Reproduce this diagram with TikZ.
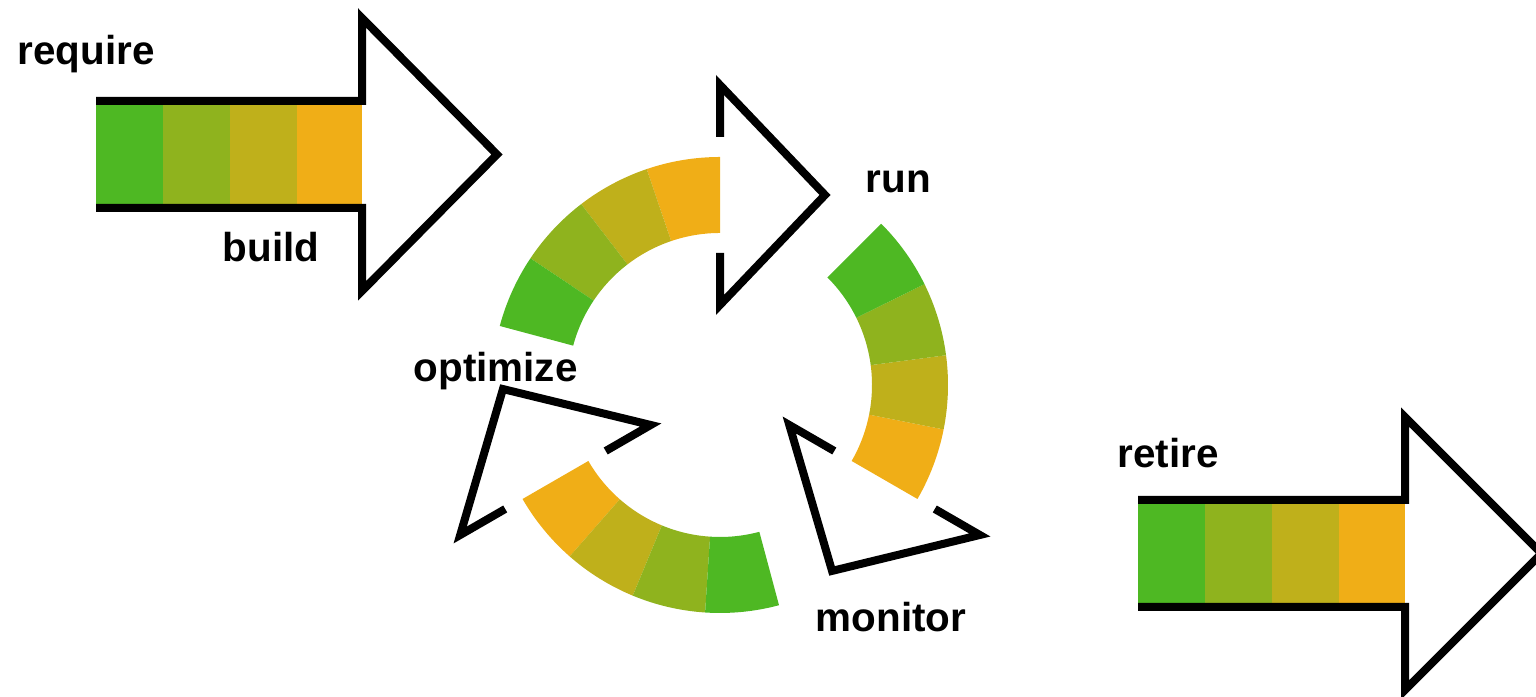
\documentclass[tikz,border=0pt]{standalone}
\usepackage{fontspec}
\setmainfont{Liberation Sans}

\definecolor{bandgreen}{RGB}{78,184,35}
\definecolor{bandlime}{RGB}{143,179,30}
\definecolor{bandolive}{RGB}{191,176,27}
\definecolor{bandorange}{RGB}{240,174,23}

\tikzset{
  outline/.style={line width=0.08cm, line join=miter},
  stage/.style={font=\fontsize{11.5}{14}\selectfont\bfseries, inner sep=0pt, anchor=base west},
}

\begin{document}
\begin{tikzpicture}
        \useasboundingbox (0,0) rectangle (15.36,6.97);

        % Entry arrow (require / build)
        \fill[bandgreen]  (0.96,4.89) rectangle (1.63,5.96);
        \fill[bandlime]   (1.63,4.89) rectangle (2.30,5.96);
        \fill[bandolive]  (2.30,4.89) rectangle (2.97,5.96);
        \fill[bandorange] (2.97,4.89) rectangle (3.62,5.96);
        \draw[outline] (0.96,5.96) -- (3.62,5.96) -- (3.62,6.79) -- (4.97,5.425)
            -- (3.62,4.06) -- (3.62,4.89) -- (0.96,4.89);
        \node[stage] (require) at (0.17,6.32) {require};
        \node[stage] (build) at (2.22,4.35) {build};

        % Lifecycle ring: three curved arrows, 120 degrees apart
        \begin{scope}[shift={(7.20,3.12)}]
          \foreach \rot in {0,-120,-240} {
            \begin{scope}[rotate=\rot]
              % coloured band, orange end next to the head
              \foreach \c [count=\i from 0] in {bandorange,bandolive,bandlime,bandgreen}
                \fill[\c] ({90+18.75*\i}:1.52)
                    arc[start angle={90+18.75*\i}, delta angle=18.75, radius=1.52]
                    -- ({90+18.75*(\i+1)}:2.28)
                    arc[start angle={90+18.75*(\i+1)}, delta angle=-18.75, radius=2.28] -- cycle;
              % open head, base broken where the band passes
              \draw[outline] (0,2.48) -- (0,3.00) -- (1.05,1.90) -- (0,0.80) -- (0,1.32);
            \end{scope}
          }
        \end{scope}
        \node[stage] (run) at (8.65,5.04) {run};
        \node[stage] (monitor) at (8.15,0.65) {monitor};
        \node[stage] (optimize) at (4.13,3.15) {optimize};

        % Exit arrow (retire)
        \fill[bandgreen]  (11.38,0.90) rectangle (12.05,1.97);
        \fill[bandlime]   (12.05,0.90) rectangle (12.72,1.97);
        \fill[bandolive]  (12.72,0.90) rectangle (13.39,1.97);
        \fill[bandorange] (13.39,0.90) rectangle (14.05,1.97);
        \draw[outline] (11.38,1.97) -- (14.05,1.97) -- (14.05,2.80) -- (15.415,1.435)
            -- (14.05,0.07) -- (14.05,0.90) -- (11.38,0.90);
        \node[stage] (retire) at (11.17,2.29) {retire};

    \end{tikzpicture}
\end{document}
